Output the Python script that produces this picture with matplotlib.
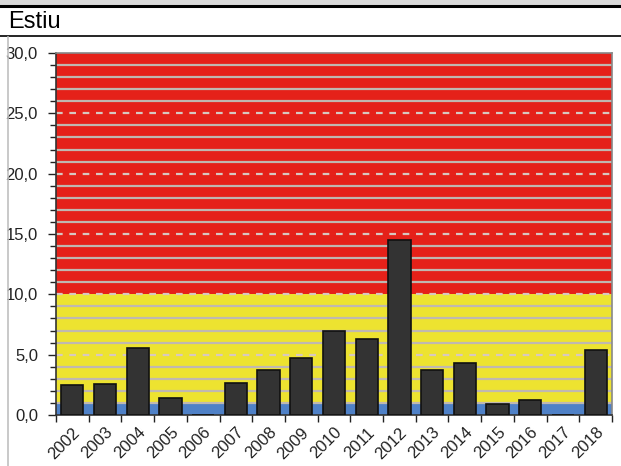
import matplotlib
matplotlib.use("Agg")
import matplotlib.pyplot as plt
import numpy as np
from matplotlib.lines import Line2D
from matplotlib.patches import Rectangle

years = ["2002", "2003", "2004", "2005", "2006", "2007", "2008", "2009", "2010",
         "2011", "2012", "2013", "2014", "2015", "2016", "2017", "2018"]
values = [2.5, 2.6, 5.55, 1.4, 0.0, 2.65, 3.7, 4.7, 7.0,
          6.3, 14.5, 3.75, 4.3, 0.9, 1.25, 0.0, 5.4]
bands = [(0, 1, "#4f81c7"), (1, 10, "#ede330"), (10, 30, "#e52119")]
title = "Estiu"
ytick_labels = ["0,0", "5,0", "10,0", "15,0", "20,0", "25,0", "30,0"]

plt.rcParams['font.family'] = ['Liberation Sans', 'DejaVu Sans']

fig = plt.figure(figsize=(6.21, 4.66), dpi=100)
W, H = 621, 466

# header decorations
fig.patches.append(Rectangle((0, 1 - 5 / H), 1, 5 / H, transform=fig.transFigure,
                             color="#d9d9d9", zorder=0))
fig.lines.append(Line2D([0, 1], [1 - 5.5 / H, 1 - 5.5 / H], transform=fig.transFigure,
                        color="black", lw=2.2))
fig.lines.append(Line2D([0, 1], [1 - 36 / H, 1 - 36 / H], transform=fig.transFigure,
                        color="black", lw=1.2))
fig.lines.append(Line2D([7.5 / W, 7.5 / W], [0, 1 - 37 / H], transform=fig.transFigure,
                        color="#c0c0c0", lw=1.2))
fig.text(8 / W, 1 - 22 / H, title, fontsize=17, va="center", ha="left", color="black")

ax = fig.add_axes([56 / W, 51 / H, 556 / W, 362 / H])
x = np.arange(len(years))
ax.set_xlim(-0.5, len(years) - 0.5)
ax.set_ylim(0, 30)

for lo, hi, c in bands:
    ax.axhspan(lo, hi, color=c, zorder=0, lw=0)

for v in range(1, 30):
    if v % 5 == 0:
        ax.axhline(v, color="#d8c8c0", lw=1.6, ls=(0, (3, 3)), zorder=1)
    else:
        ax.axhline(v, color="#c0b8b0", lw=1.6, zorder=1)

ax.bar(x, values, width=0.68, color="#333333", edgecolor="#111111", lw=1.2, zorder=3)

ax.set_yticks(np.arange(0, 31, 5))
ax.set_yticklabels(ytick_labels)
ax.set_yticks(np.arange(0, 31, 1), minor=True)
ax.tick_params(axis="y", which="major", length=6, width=1, labelsize=12, pad=7, colors="#222222")
ax.tick_params(axis="y", which="minor", length=4, width=1, colors="#222222")

ax.set_xticks(np.arange(-0.5, len(years), 1))
ax.set_xticklabels([])
ax.set_xticks(x, minor=True)
ax.set_xticklabels(years, minor=True, rotation=45, ha="right", rotation_mode="anchor")
for lbl in ax.get_xticklabels(minor=True):
    lbl.set_x(lbl.get_position()[0])
ax.tick_params(axis="x", which="major", length=5, width=1, colors="#222222")
ax.tick_params(axis="x", which="minor", length=0, labelsize=12, pad=7, colors="#222222")

for s in ["top", "right"]:
    ax.spines[s].set_color("#888888")
    ax.spines[s].set_linewidth(1.2)
for s in ["left", "bottom"]:
    ax.spines[s].set_color("#333333")
    ax.spines[s].set_linewidth(1.2)

fig.savefig("out.png", dpi=100)
